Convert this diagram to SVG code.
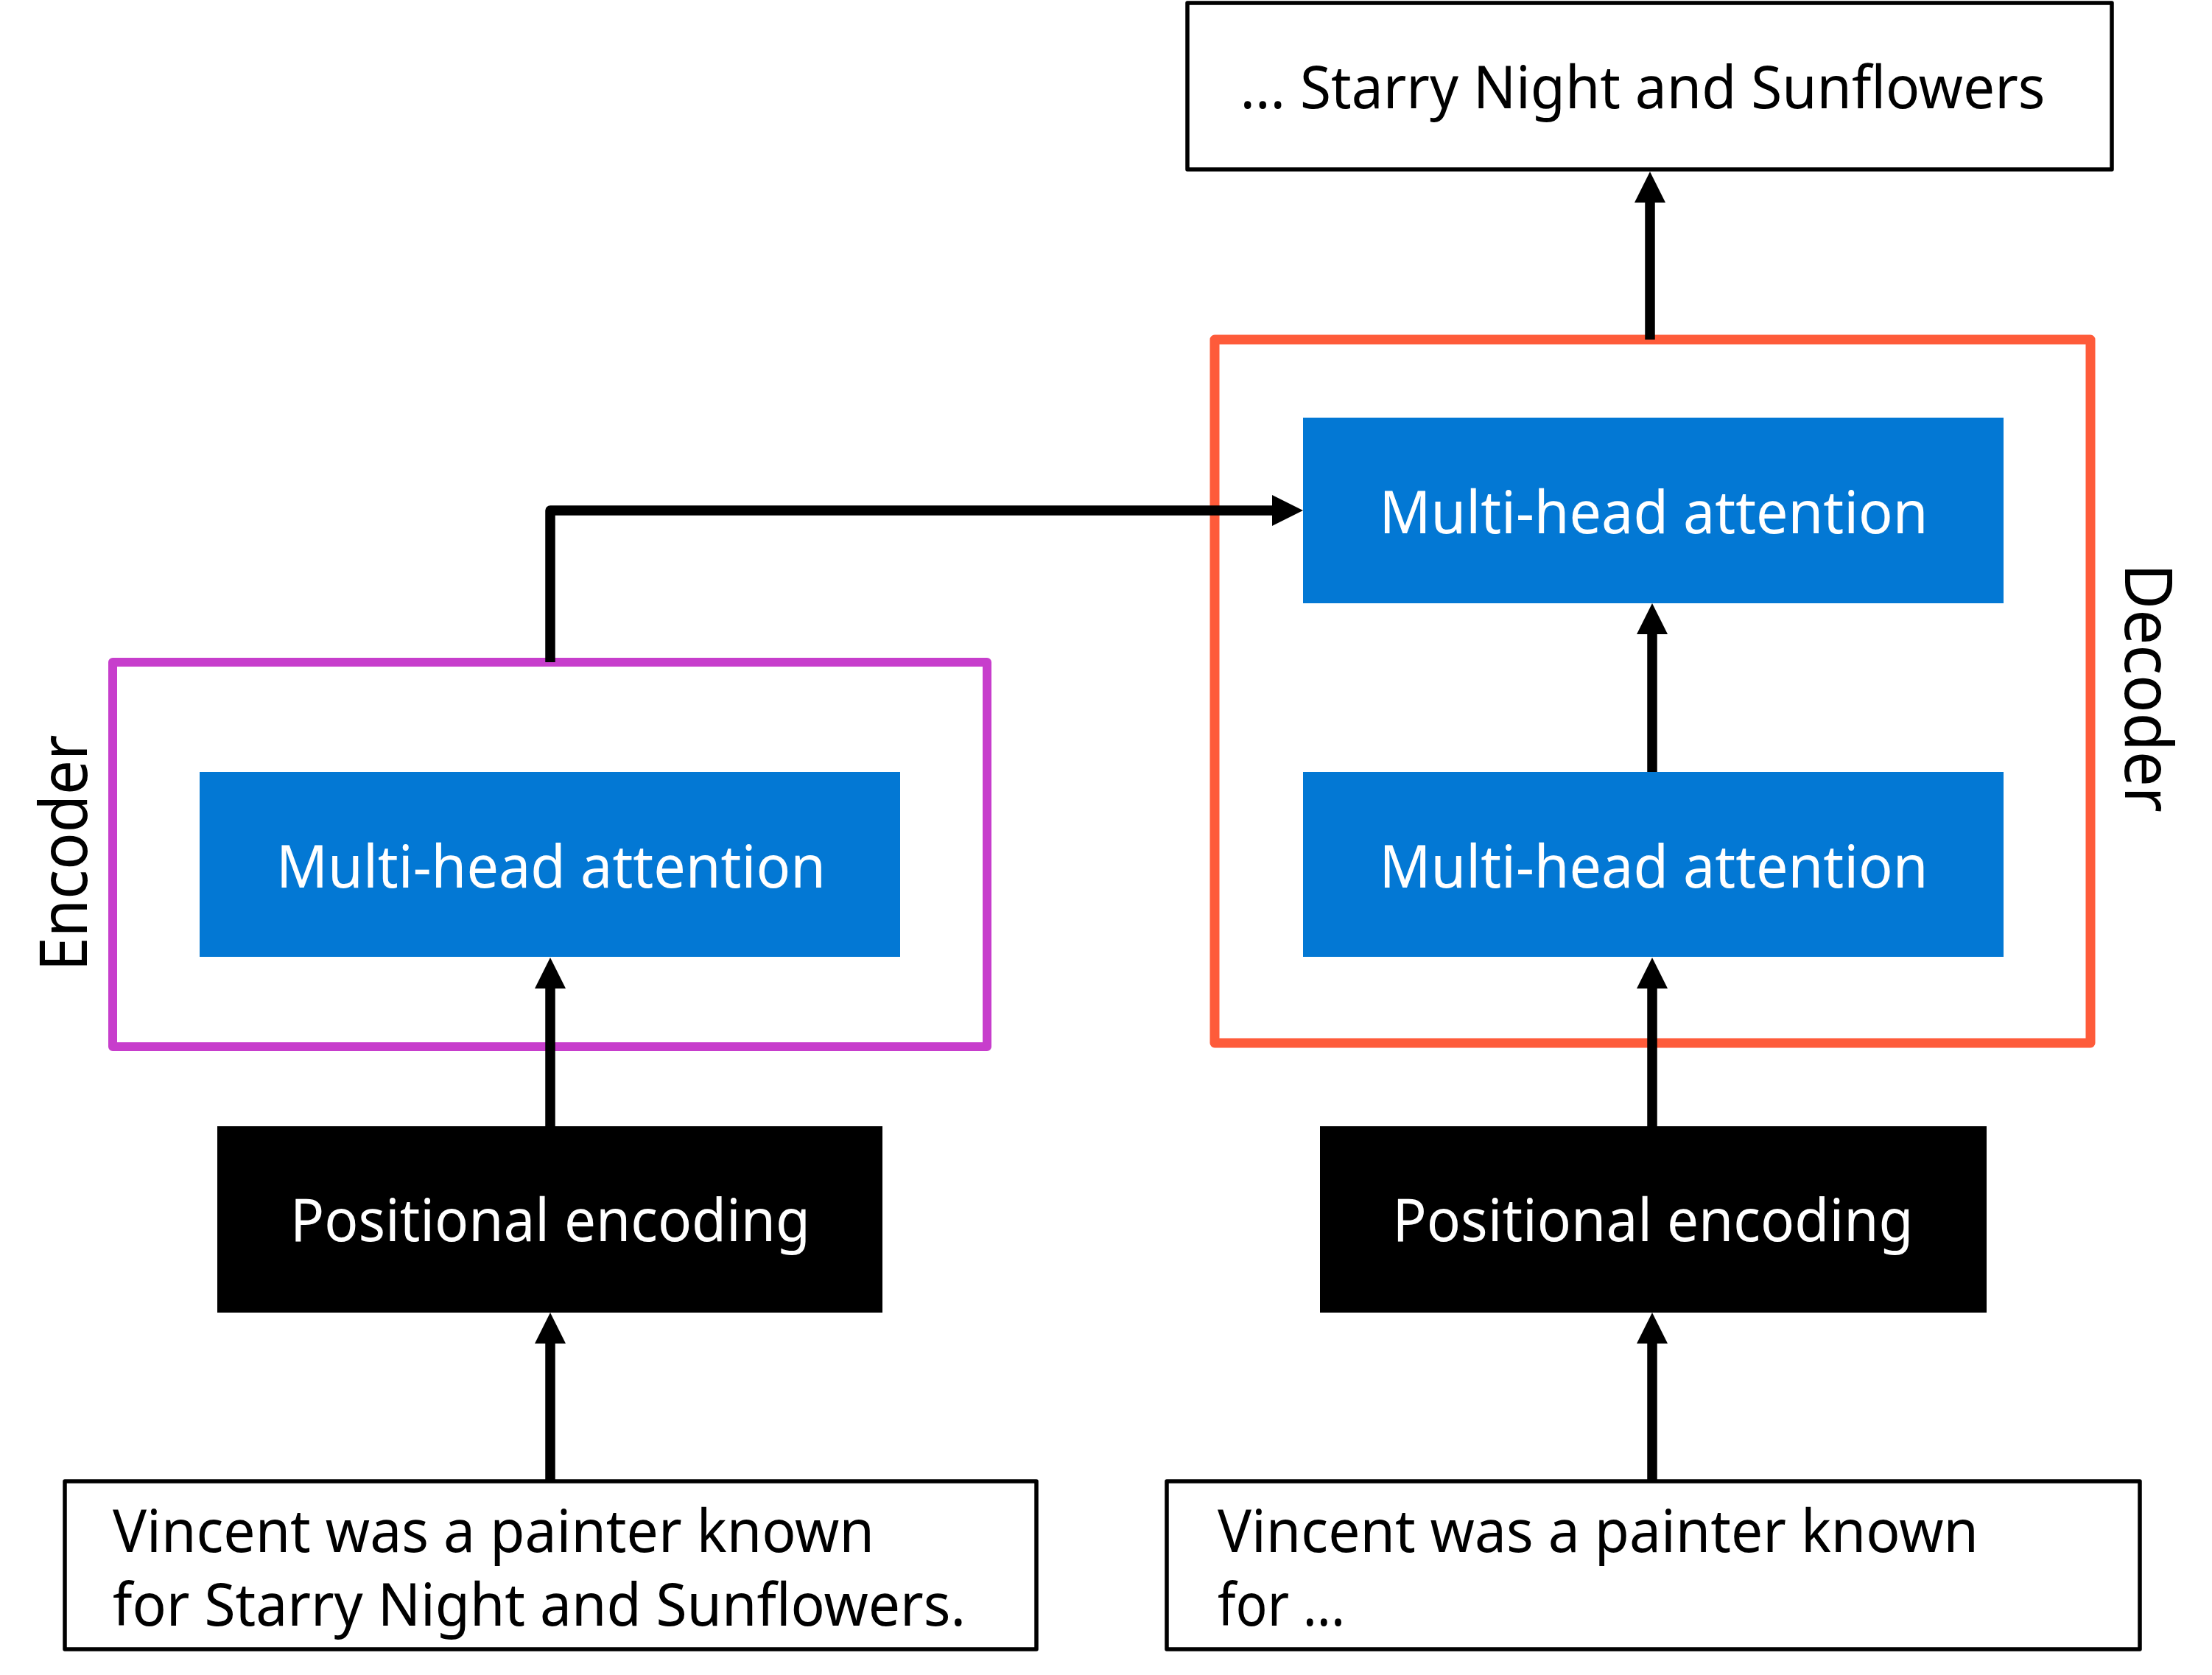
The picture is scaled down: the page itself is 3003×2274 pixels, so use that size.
<svg xmlns="http://www.w3.org/2000/svg" width="3003" height="2274" viewBox="0 0 3003 2274">
<defs>
<style>
.txt{font-family:"Noto Sans","Open Sans","Liberation Sans",sans-serif;font-size:81px}
.w{fill:#ffffff}
.k{fill:#000000}
.box{fill:#ffffff;stroke:#000000;stroke-width:5.5;stroke-linejoin:round}
.blue{fill:#0378D4}
.pe{fill:#000000}
.conn{fill:none;stroke:#000000;stroke-width:13.5}
.lbl{font-family:"Noto Sans","Open Sans","Liberation Sans",sans-serif;font-size:90px;fill:#000000}
</style>
<marker id="ah" markerUnits="userSpaceOnUse" markerWidth="42" markerHeight="42" refX="0" refY="21" orient="auto" viewBox="0 0 42 42">
<path d="M0,0 L42,21 L0,42 z" fill="#000000"/>
</marker>
</defs>
<rect width="3003" height="2274" fill="#ffffff"/>

<g id="output">
<rect class="box" x="1612" y="4" width="1255" height="226"/>
<text class="txt k" x="2230" y="147" text-anchor="middle" textLength="1093" lengthAdjust="spacingAndGlyphs">... Starry Night and Sunflowers</text>
</g>

<g id="decoder">
<rect x="1649" y="461" width="1189" height="955" fill="none" stroke="#FE5B3A" stroke-width="13" stroke-linejoin="round"/>
<text class="lbl" transform="translate(2885,934) rotate(90)" text-anchor="middle" textLength="338" lengthAdjust="spacingAndGlyphs">Decoder</text>
</g>

<g id="encoder">
<rect x="153" y="899" width="1187" height="522" fill="none" stroke="#C73ECC" stroke-width="12" stroke-linejoin="round"/>
<text class="lbl" transform="translate(118,1158) rotate(-90)" text-anchor="middle" textLength="321" lengthAdjust="spacingAndGlyphs">Encoder</text>
</g>

<g id="enc-mha">
<rect class="blue" x="271" y="1048" width="951" height="251"/>
<text class="txt w" x="748" y="1205" text-anchor="middle" textLength="746" lengthAdjust="spacingAndGlyphs">Multi-head attention</text>
</g>

<g id="dec-mha-top">
<rect class="blue" x="1769" y="567" width="951" height="252"/>
<text class="txt w" x="2245" y="724" text-anchor="middle" textLength="745" lengthAdjust="spacingAndGlyphs">Multi-head attention</text>
</g>

<g id="dec-mha-bottom">
<rect class="blue" x="1769" y="1048" width="951" height="251"/>
<text class="txt w" x="2245" y="1205" text-anchor="middle" textLength="745" lengthAdjust="spacingAndGlyphs">Multi-head attention</text>
</g>

<g id="enc-pe">
<rect class="pe" x="295" y="1529" width="903" height="253"/>
<text class="txt w" x="747" y="1685" text-anchor="middle" textLength="706" lengthAdjust="spacingAndGlyphs">Positional encoding</text>
</g>

<g id="dec-pe">
<rect class="pe" x="1792" y="1529" width="905" height="253"/>
<text class="txt w" x="2244" y="1685" text-anchor="middle" textLength="707" lengthAdjust="spacingAndGlyphs">Positional encoding</text>
</g>

<g id="enc-input">
<rect class="box" x="88" y="2011" width="1319" height="228"/>
<text class="txt k" x="153" y="2107" textLength="1034" lengthAdjust="spacingAndGlyphs">Vincent was a painter known</text>
<text class="txt k" x="153" y="2207" textLength="1158" lengthAdjust="spacingAndGlyphs">for Starry Night and Sunflowers.</text>
</g>

<g id="dec-input">
<rect class="box" x="1584" y="2011" width="1321" height="228"/>
<text class="txt k" x="1653" y="2107" textLength="1033" lengthAdjust="spacingAndGlyphs">Vincent was a painter known</text>
<text class="txt k" x="1653" y="2207" textLength="173" lengthAdjust="spacingAndGlyphs">for ...</text>
</g>

<g id="connectors">
<path class="conn" d="M747,2011 V1824" marker-end="url(#ah)"/>
<path class="conn" d="M747,1529 V1342" marker-end="url(#ah)"/>
<path class="conn" d="M747,899 V693 H1727" stroke-linejoin="round" marker-end="url(#ah)"/>
<path class="conn" d="M2243,2011 V1824" marker-end="url(#ah)"/>
<path class="conn" d="M2243,1529 V1342" marker-end="url(#ah)"/>
<path class="conn" d="M2243,1048 V861" marker-end="url(#ah)"/>
<path class="conn" d="M2240,461 V275" marker-end="url(#ah)"/>
</g>
</svg>
